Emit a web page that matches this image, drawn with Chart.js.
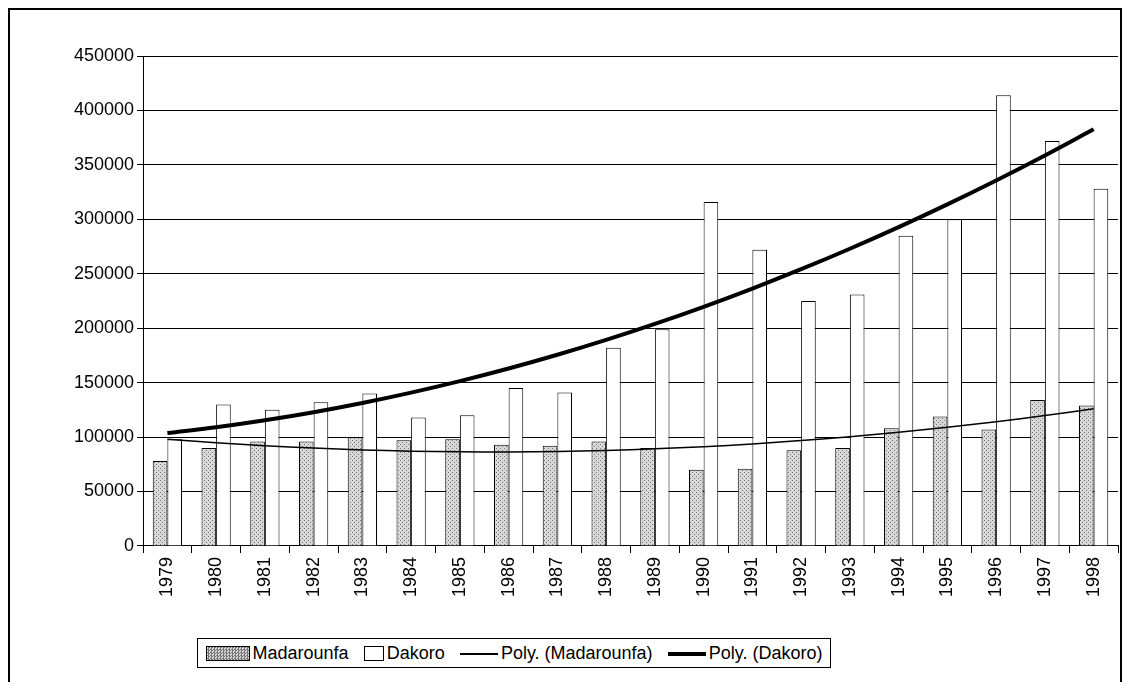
<!DOCTYPE html>
<html><head><meta charset="utf-8">
<script src="https://cdn.jsdelivr.net/npm/chart.js@4/dist/chart.umd.min.js"></script>
<style>
body{margin:0;background:#fff;font-family:Arial,"Liberation Sans",sans-serif}
#frame{position:absolute;left:8px;top:8px;width:1110px;height:690px;border:2px solid #000;border-bottom:none}
#wrap{position:absolute;left:0;top:0;width:1128px;height:682px}
#legend{position:absolute;left:197px;top:638px;width:632px;height:28px;border:1px solid #000;display:flex;align-items:center;justify-content:space-around;font-size:18px;background:#fff}
.sw{display:inline-block;vertical-align:middle;margin-right:3px}
</style></head><body>
<div id="frame"></div>
<div id="wrap"><canvas id="c" width="1128" height="682"></canvas></div>
<div id="legend">
 <span><span class="sw" id="patsw" style="width:42px;height:13px;border:1px solid #000"></span>Madarounfa</span>
 <span><span class="sw" style="width:18px;height:13px;border:1px solid #000"></span>Dakoro</span>
 <span><span class="sw" style="width:38px;border-top:2px solid #000"></span>Poly. (Madarounfa)</span>
 <span><span class="sw" style="width:38px;border-top:4px solid #000"></span>Poly. (Dakoro)</span>
</div>
<script>
const years = ['1979','1980','1981','1982','1983','1984','1985','1986','1987','1988','1989','1990','1991','1992','1993','1994','1995','1996','1997','1998'];
const madarounfa = [78000,90000,96000,96000,100000,97000,98000,93000,92000,96000,90000,70000,71000,88000,90000,108000,119000,107000,134000,129000];
const dakoro = [98000,130000,125000,132000,140000,118000,120000,145000,141000,182000,199000,316000,272000,225000,231000,285000,300000,414000,372000,328000];

// least-squares 2nd-order fit, as the spreadsheet trendline does
function polyFit(ys){
  const n=ys.length; let S=[0,0,0,0,0], T=[0,0,0];
  ys.forEach((y,i)=>{const x=i+1; for(let k=0;k<5;k++)S[k]+=Math.pow(x,k); for(let k=0;k<3;k++)T[k]+=y*Math.pow(x,k);});
  const A=[[S[0],S[1],S[2],T[0]],[S[1],S[2],S[3],T[1]],[S[2],S[3],S[4],T[2]]];
  for(let i=0;i<3;i++){for(let j=i+1;j<3;j++){const f=A[j][i]/A[i][i];for(let k=i;k<4;k++)A[j][k]-=f*A[i][k];}}
  const c=[0,0,0];
  for(let i=2;i>=0;i--){let s=A[i][3];for(let k=i+1;k<3;k++)s-=A[i][k]*c[k];c[i]=s/A[i][i];}
  return ys.map((_,i)=>{const x=i+1;return c[0]+c[1]*x+c[2]*x*x;});
}

function dotPattern(){
  const p=document.createElement('canvas');p.width=4;p.height=4;
  const g=p.getContext('2d');g.fillStyle='#d8d8d8';g.fillRect(0,0,4,4);
  g.fillStyle='#777';g.fillRect(0,0,1,1);g.fillRect(2,2,1,1);
  return g.createPattern(p,'repeat');
}
const pat=dotPattern();
document.getElementById('patsw').style.background='repeating-conic-gradient(#777 0 25%,#d8d8d8 0 50%) 0 0/3px 3px';

new Chart(document.getElementById('c'),{
  data:{labels:years,datasets:[
    {type:'line',data:polyFit(madarounfa),borderColor:'#000',borderWidth:1.5,pointRadius:0,tension:0.4,order:0},
    {type:'line',data:polyFit(dakoro),borderColor:'#000',borderWidth:4,pointRadius:0,tension:0.4,order:0},
    {type:'bar',data:madarounfa,backgroundColor:pat,borderColor:'#000',borderWidth:1,categoryPercentage:0.6,barPercentage:1,order:1},
    {type:'bar',data:dakoro,backgroundColor:'#fff',borderColor:'#000',borderWidth:1,categoryPercentage:0.6,barPercentage:1,order:1}
  ]},
  options:{responsive:false,animation:false,
    layout:{padding:{left:12,right:10,top:56,bottom:81}},
    plugins:{legend:{display:false},tooltip:{enabled:false}},
    scales:{
      x:{grid:{display:true,drawOnChartArea:false,offset:true,color:'#000',tickLength:7},border:{color:'#000'},
        ticks:{color:'#000',font:{size:18,family:'Arial'},minRotation:90,maxRotation:90,padding:4}},
      y:{min:0,max:450000,grid:{color:'#000',tickLength:6},border:{color:'#000'},
        ticks:{stepSize:50000,color:'#000',font:{size:18,family:'Arial'},callback:v=>String(v)},
        afterFit:s=>{s.width=131;}}
    }}
});
</script>
</body></html>
